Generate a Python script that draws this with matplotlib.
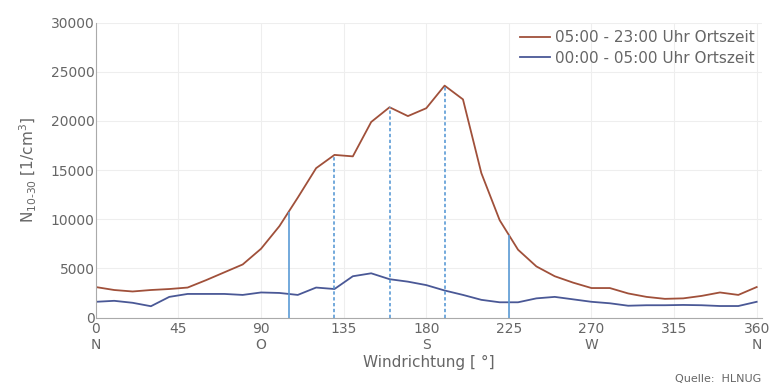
import numpy as np
import matplotlib.pyplot as plt

# Windrichtung in Grad (10-Grad-Schritte)
richtung = list(range(0, 361, 10))

# Partikelanzahl N10-30 [1/cm3]
tag = [3100, 2800, 2650, 2800, 2900, 3050, 3800, 4600, 5400, 7000,
       9300, 12200, 15200, 16550, 16400, 19900, 21400, 20500, 21300, 23600,
       22200, 14700, 9900, 6900, 5200, 4200, 3550, 3000, 3000, 2450,
       2100, 1900, 1950, 2200, 2550, 2300, 3100]
nacht = [1600, 1700, 1500, 1150, 2100, 2400, 2400, 2400, 2300, 2550,
         2500, 2300, 3050, 2900, 4200, 4500, 3900, 3650, 3300, 2750,
         2300, 1800, 1550, 1550, 1950, 2100, 1850, 1600, 1450, 1200,
         1250, 1250, 1280, 1250, 1170, 1170, 1600]

# Markierte Richtungen
linien_voll = [105, 225]
linien_gestrichelt = [130, 160, 190]

xticks = [0, 45, 90, 135, 180, 225, 270, 315, 360]
xlabels = ['0\nN', '45', '90\nO', '135', '180\nS', '225', '270\nW', '315', '360\nN']

grau = '#666666'
fig = plt.figure(figsize=(7.73, 3.92), dpi=100)
ax = fig.add_axes([0.124, 0.19, 0.862, 0.752])

ax.plot(richtung, tag, color='#a0503a', lw=1.3, label='05:00 - 23:00 Uhr Ortszeit')
ax.plot(richtung, nacht, color='#4a5896', lw=1.3, label='00:00 - 05:00 Uhr Ortszeit')

for x in linien_voll:
    ax.vlines(x, 0, np.interp(x, richtung, tag), color='#5b9bd5', lw=1.2)
for x in linien_gestrichelt:
    ax.vlines(x, 0, np.interp(x, richtung, tag), color='#5b9bd5', lw=1.2,
              linestyles=(0, (2, 1.5)))

ax.set_xlim(0, 363)
ax.set_ylim(0, 30000)
ax.set_xticks(xticks)
ax.set_xticklabels(xlabels)
ax.set_yticks(range(0, 30001, 5000))
ax.tick_params(colors=grau, labelsize=10, length=0)
ax.tick_params(axis='x', pad=3)
ax.tick_params(axis='y', pad=1)
ax.grid(True, color='#eeeeee', lw=0.8)
for s in ['top', 'right']:
    ax.spines[s].set_visible(False)
for s in ['left', 'bottom']:
    ax.spines[s].set_color('#aaaaaa')

ax.set_xlabel('Windrichtung [ °]', color=grau, fontsize=11, labelpad=2)
ax.set_ylabel(r'N$_{10\text{-}30}$ [1/cm$^3$]', color=grau, fontsize=11, labelpad=8)

leg = ax.legend(loc='upper right', frameon=False, fontsize=11, handlelength=2.0,
                handletextpad=0.3, labelspacing=0.35, borderaxespad=0.1)
for t in leg.get_texts():
    t.set_color(grau)

fig.text(0.985, 0.02, 'Quelle:  HLNUG', ha='right', va='bottom', color=grau, fontsize=8)

fig.savefig('out.png', dpi=100, facecolor='white')
